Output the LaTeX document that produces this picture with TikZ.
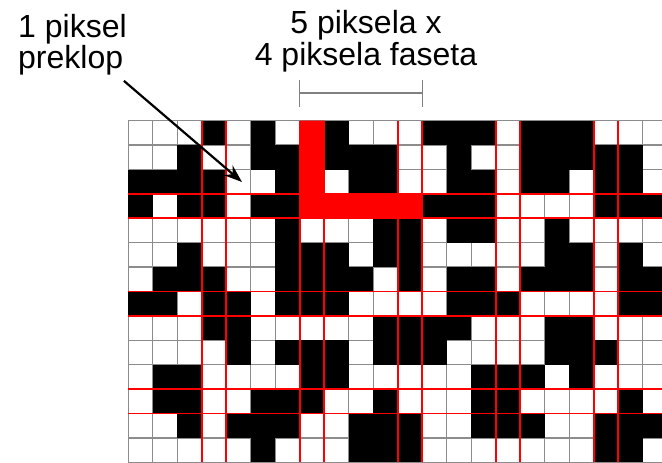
\documentclass[tikz,border=0pt]{standalone}
\usepackage{fontspec}
\setmainfont{Liberation Sans}
\usetikzlibrary{arrows.meta,positioning}

\begin{document}
\begin{tikzpicture}[x=1pt, y=-1pt,
    lbl/.style={font=\fontsize{32}{30}\selectfont, inner sep=0pt},
    gridline/.style={black!45, line width=1.3pt},
    facetline/.style={red, line width=1.7pt}]
  \useasboundingbox (0,0) rectangle (662,463);
  \fill[white] (0,0) rectangle (662,463);
  \begin{scope}
    \clip (0,0) rectangle (662,463);
    \begin{scope}[shift={(128.3,120.7)}, x=24.5pt, y=-24.4pt]
      \foreach \c in {0,...,22}
        \draw[gridline] (\c,0) -- (\c,14);
      \foreach \r in {0,...,14}
        \draw[gridline] (0,\r) -- (22,\r);
      \foreach \r/\cl in {0/{3,5,8,12,13,14,16,17,18},
          1/{2,5,6,8,9,10,13,16,17,18,19,20},
          2/{0,1,2,3,6,9,10,13,14,16,17,19,20},
          3/{0,2,3,5,6,12,13,14,19,20,21},
          4/{6,10,11,13,14,17},
          5/{2,6,7,8,10,11,17,18,20},
          6/{1,2,3,6,7,8,9,11,13,14,16,17,18,20,21},
          7/{0,1,3,4,6,7,8,13,14,15,20,21},
          8/{3,4,10,11,12,13,17,18},
          9/{4,6,7,8,10,11,12,17,18,19},
          10/{1,2,7,8,14,15,16,18},
          11/{1,2,5,6,7,10,14,15,20},
          12/{2,4,5,6,9,10,11,14,15,16,19,20,21},
          13/{5,9,10,11,19,20}}
        \foreach \c in \cl
          \fill (\c,\r) rectangle ++(1,1);
      \fill[red] (7,0) rectangle (8,4) (8,3) rectangle (12,4);
      \foreach \c in {3,4,7,8,11,12,15,16,19,20}
        \draw[facetline] (\c,0) -- (\c,14);
      \foreach \r in {3,4,7,8,11,12}
        \draw[facetline] (0,\r) -- (22,\r);
    \end{scope}
  \end{scope}
  \node[lbl, font=\fontsize{32}{29}\selectfont, anchor=base west, align=left]
    (overlap) at (18,68) {1 piksel\\preklop};
  \node[lbl, font=\fontsize{32}{32}\selectfont, anchor=base, align=center]
    (facet) at (366,65) {5 piksela x\\4 piksela faseta};
  \coordinate (tip) at (242,182);
  \coordinate (barl) at (299,93);
  \coordinate (barr) at (423,93);
  \draw[line width=2.2pt, -{Stealth[length=18pt,width=13pt]}]
    ([xshift=-3pt,yshift=-6pt]overlap.south east) -- (tip);
  \draw[black!50, line width=1.3pt, {Bar[width=27pt]}-{Bar[width=27pt]}]
    (barl) -- (barr);
\end{tikzpicture}
\end{document}
